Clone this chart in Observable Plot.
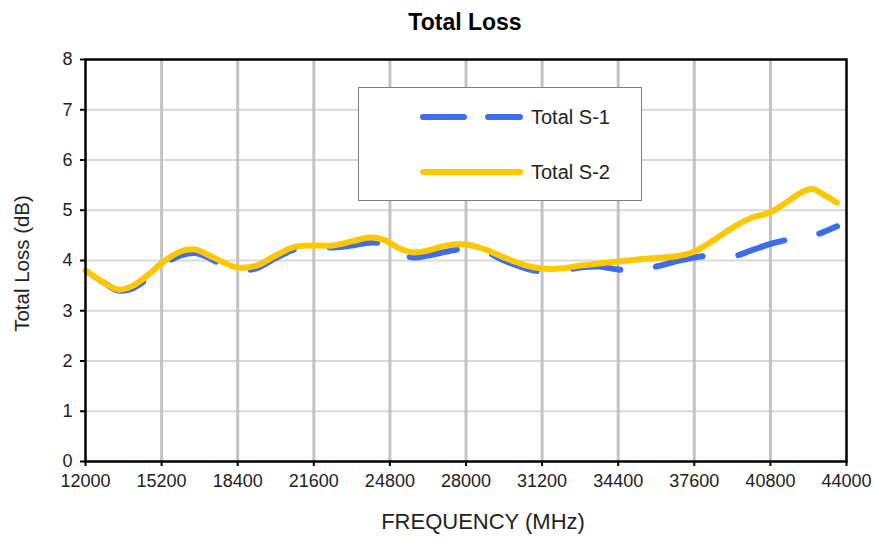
<!DOCTYPE html>
<html><head><meta charset="utf-8">
<script src="https://cdn.jsdelivr.net/npm/d3@7"></script>
<script src="https://cdn.jsdelivr.net/npm/@observablehq/plot@0.6"></script>
<style>
body{margin:0;background:#fff;font-family:"Liberation Sans",Arial,sans-serif;}
#wrap{position:relative;width:875px;height:543px;overflow:hidden;}
#title{box-sizing:border-box;width:875px;height:44px;padding-left:55px;padding-top:9px;text-align:center;font-weight:bold;font-size:23px;line-height:26px;color:#000;}
#legend{position:absolute;left:358px;top:87px;}
</style></head><body>
<div id="wrap">
<div id="title">Total Loss</div>
<div id="chart"></div>
<div id="legend"></div>
</div>
<script>
const freq = [12000,12800,13400,14000,14800,15200,16000,16600,17200,18000,18400,19200,20000,20800,21600,22400,23200,24000,24600,25200,25800,26400,27200,28000,28800,29600,30400,31200,32000,32800,33600,34400,35200,36000,36800,37600,38400,39200,40000,40800,41600,42200,42600,43000,43600];
const totalS1 = [3.78,3.55,3.40,3.45,3.72,3.90,4.10,4.15,4.05,3.85,3.80,3.85,4.05,4.22,4.27,4.26,4.30,4.36,4.32,4.14,4.06,4.10,4.18,4.24,4.18,4.00,3.86,3.78,3.80,3.86,3.88,3.82,3.80,3.88,3.98,4.06,4.10,4.08,4.20,4.33,4.42,4.46,4.50,4.56,4.68];
const totalS2 = [3.80,3.55,3.42,3.50,3.78,3.95,4.18,4.22,4.10,3.92,3.86,3.90,4.10,4.27,4.30,4.30,4.38,4.46,4.40,4.24,4.16,4.20,4.30,4.32,4.22,4.06,3.92,3.84,3.84,3.90,3.94,3.98,4.02,4.05,4.08,4.18,4.40,4.65,4.85,4.96,5.20,5.38,5.42,5.32,5.15];
const xTicks = [12000,15200,18400,21600,24800,28000,31200,34400,37600,40800,44000];
const yTicks = [0,1,2,3,4,5,6,7,8];
const seriesNames = ["Total S-1","Total S-2"];
const colors = ["#3b6cf2","#ffc700"];

const rows1 = freq.map((f,i)=>({f, v: totalS1[i]}));
const rows2 = freq.map((f,i)=>({f, v: totalS2[i]}));

const chart = Plot.plot({
  width: 875, height: 499,
  marginLeft: 85, marginRight: 29, marginTop: 15, marginBottom: 82,
  style: {fontFamily: '"Liberation Sans", Arial, sans-serif', color: "#222", background: "#fff"},
  x: {domain: [12000, 44000]},
  y: {domain: [0, 8]},
  marks: [
    Plot.ruleY(yTicks.slice(1, -1), {stroke: "#d9d9d9", strokeWidth: 2}),
    Plot.ruleX(xTicks.slice(1, -1), {stroke: "#c3c3c3", strokeWidth: 3}),
    Plot.lineY(rows1, {x: "f", y: "v", stroke: colors[0], strokeWidth: 6, strokeDasharray: "48,36", strokeDashoffset: 67, strokeLinecap: "round", curve: "catmull-rom"}),
    Plot.lineY(rows2, {x: "f", y: "v", stroke: colors[1], strokeWidth: 6, strokeLinecap: "round", curve: "catmull-rom"}),
    Plot.frame({stroke: "#000", strokeWidth: 2.5}),
    Plot.axisX({ticks: xTicks, tickFormat: d => String(d), tickSize: 5, tickPadding: 8, fontSize: 18, label: null, stroke: "#000", strokeWidth: 2}),
    Plot.axisY({ticks: yTicks, tickSize: 5, tickPadding: 8, fontSize: 18, label: null, stroke: "#000", strokeWidth: 2}),
    Plot.text(["FREQUENCY (MHz)"], {frameAnchor: "bottom", dx: 17, dy: 67, fontSize: 22, fill: "#222"}),
    Plot.text(["Total Loss (dB)"], {frameAnchor: "left", dx: -63, dy: 3, rotate: -90, textAnchor: "middle", fontSize: 20.5, fill: "#222"})
  ]
});
document.getElementById("chart").appendChild(chart);

// legend
const lg = d3.select("#legend").append("svg").attr("width", 284).attr("height", 114);
lg.append("rect").attr("x", 0.5).attr("y", 0.5).attr("width", 283).attr("height", 113).attr("fill", "#fff").attr("stroke", "#7f7f7f");
const ly = [30, 85];
seriesNames.forEach((name, i) => {
  lg.append("line").attr("x1", 65).attr("x2", 162).attr("y1", ly[i]).attr("y2", ly[i])
    .attr("stroke", colors[i]).attr("stroke-width", 6).attr("stroke-linecap", "round")
    .attr("stroke-dasharray", i === 0 ? "41,24" : null);
  lg.append("text").attr("x", 173).attr("y", ly[i]).attr("dy", "0.35em")
    .attr("font-size", 20).attr("fill", "#222").text(name);
});
</script>
</body></html>
